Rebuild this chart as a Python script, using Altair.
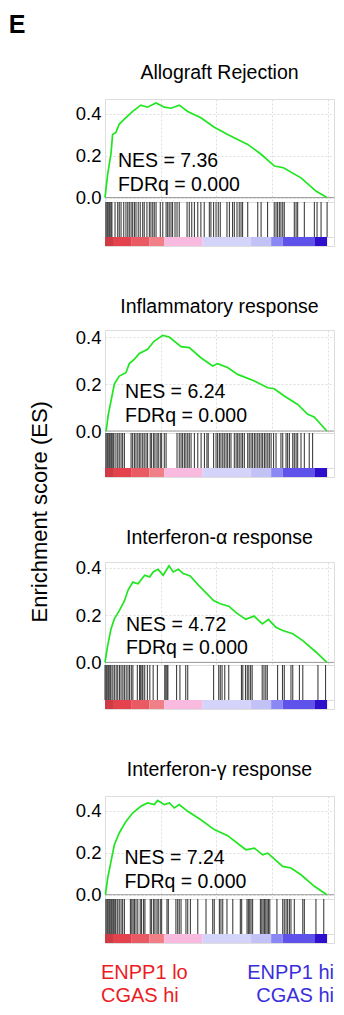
import altair as alt
import pandas as pd

FONT = "Liberation Sans"

# ---------------- data ----------------
titles = ["Allograft Rejection", "Inflammatory response",
          "Interferon-\u03b1 response", "Interferon-\u03b3 response"]
nes_vals = ["7.36", "6.24", "4.72", "7.24"]
fdr_vals = ["0.000", "0.000", "0.000", "0.000"]

# running enrichment score curves (rank in % of ranked list, ES)
rank1 = [0, 1.2, 2.7, 3.4, 4.9, 6.4, 9.4, 12.4, 16.1, 19.0, 22.9, 26.6, 29.6, 33.3,
         37.1, 43.0, 49.0, 55.0, 64.0, 70.0, 76.0, 80.0, 87.9, 94.6, 99.5]
es1 = [0, 0.11, 0.21, 0.30, 0.31, 0.35, 0.38, 0.41, 0.44, 0.43, 0.45, 0.43, 0.425, 0.44,
       0.41, 0.38, 0.335, 0.30, 0.253, 0.206, 0.15, 0.142, 0.094, 0.031, 0]

rank2 = [0.5, 1.5, 2.7, 4.2, 6.4, 9.4, 10.9, 13.1, 15.4, 19.1, 22.1, 25.9, 28.8, 34.1,
         37.8, 43.0, 48.3, 50.5, 55.0, 59.5, 67.0, 73.0, 75.9, 80.4, 86.4, 90.9, 93.8, 99.5]
es2 = [0, 0.071, 0.128, 0.20, 0.234, 0.248, 0.287, 0.305, 0.33, 0.348, 0.383, 0.407, 0.40, 0.359,
       0.355, 0.312, 0.277, 0.287, 0.27, 0.241, 0.213, 0.184, 0.18, 0.149, 0.113, 0.071, 0.06, 0]

rank3 = [0, 1.2, 2.7, 4.2, 6.5, 8.8, 10.3, 12.5, 14.8, 17.8, 20.0, 21.6, 23.8, 26.1, 28.7,
         30.6, 32.9, 35.1, 38.2, 42.0, 48.7, 51.7, 55.5, 58.5, 63.1, 66.8, 70.6, 73.3, 76.6,
         79.7, 84.2, 88.7, 94.7, 99.5]
es3 = [0, 0.071, 0.142, 0.184, 0.22, 0.262, 0.305, 0.34, 0.333, 0.369, 0.362, 0.383, 0.394,
       0.369, 0.409, 0.383, 0.394, 0.376, 0.366, 0.326, 0.262, 0.248, 0.238, 0.213, 0.182,
       0.196, 0.163, 0.182, 0.149, 0.135, 0.121, 0.092, 0.043, 0]

rank4 = [0.2, 1.2, 2.7, 4.2, 6.4, 9.4, 12.4, 16.1, 19.1, 22.1, 23.6, 26.6, 28.9, 31.1, 33.3,
         37.1, 43.0, 49.0, 55.0, 63.2, 67.0, 70.7, 73.0, 79.7, 83.4, 87.9, 93.9, 99.5]
es4 = [0, 0.079, 0.159, 0.238, 0.294, 0.349, 0.389, 0.421, 0.437, 0.429, 0.449, 0.429, 0.437,
       0.413, 0.429, 0.397, 0.357, 0.31, 0.281, 0.214, 0.222, 0.19, 0.198, 0.135, 0.127,
       0.095, 0.04, 0]

# gene-set hit positions (rank in %)
hits1 = [0.4, 0.9, 1.3, 1.8, 2.2, 2.7, 3.1, 4.5, 5.7, 6.4, 7.2, 8.4, 9.4, 10.2, 10.9, 11.7,
         12.4, 13.2, 13.9, 14.9, 15.8, 16.9, 17.6, 18.8, 19.9, 20.6, 21.4, 22.1, 22.9, 24.8,
         25.9, 27.4, 28.1, 28.8, 29.6, 30.3, 31.4, 32.3, 33.3, 36.8, 37.8, 38.9, 40.1, 41.6,
         43.0, 44.5, 46.8, 47.5, 48.7, 49.8, 50.8, 51.7, 54.7, 55.8, 57.2, 58.0, 59.2, 60.2,
         61.0, 61.7, 64.0, 68.5, 70.0, 72.9, 75.9, 76.7, 77.4, 78.2, 78.9, 79.7, 80.4, 84.9,
         85.7, 86.4, 89.4, 93.9, 95.1, 96.9, 99.6]
hits2 = [0.4, 0.9, 1.3, 1.8, 2.2, 2.7, 3.1, 3.6, 4.0, 4.9, 5.7, 6.4, 7.2, 7.9, 8.7, 11.7,
         12.4, 13.2, 13.9, 14.7, 15.4, 16.1, 16.9, 17.6, 18.4, 19.1, 20.3, 20.9, 21.8, 22.4,
         23.3, 23.9, 24.8, 25.4, 26.6, 27.4, 32.3, 33.3, 34.1, 34.8, 35.6, 36.3, 37.1, 37.8,
         38.6, 40.1, 41.6, 43.1, 44.6, 45.7, 46.3, 48.7, 49.8, 50.5, 51.3, 52.0, 52.8, 53.5,
         54.3, 55.0, 55.8, 56.5, 58.0, 58.8, 59.5, 60.2, 61.0, 61.7, 62.5, 64.0, 64.7, 65.5,
         66.2, 67.0, 67.7, 68.5, 69.2, 70.0, 70.7, 71.5, 72.2, 73.0, 73.7, 74.5, 75.6, 76.7,
         78.9, 79.7, 81.2, 81.9, 82.7, 84.2, 84.9, 85.7, 86.4, 87.9, 89.4, 91.6, 93.1]
hits3 = [0, 0.5, 0.9, 1.4, 1.8, 2.3, 2.7, 3.5, 4.2, 5.0, 5.7, 6.5, 7.2, 8.0, 8.7, 9.5, 10.3,
         11.0, 11.8, 12.5, 14.5, 15.5, 16.0, 16.6, 17.0, 17.8, 19.0, 20.1, 21.6, 23.5, 26.8,
         27.3, 27.8, 28.2, 32.1, 33.6, 36.2, 37.1, 48.7, 51.0, 51.7, 52.5, 53.7, 55.5, 61.2,
         61.8, 63.0, 63.8, 64.5, 65.3, 66.0, 70.5, 71.3, 72.1, 72.8, 77.4, 79.6, 80.4, 83.4,
         84.2, 87.2, 88.7, 95.5, 98.9]
hits4 = [0.4, 0.9, 1.3, 1.8, 2.2, 2.7, 3.1, 3.6, 4.0, 4.5, 4.9, 5.7, 6.4, 7.2, 7.9, 8.7,
         11.4, 12.0, 12.6, 13.2, 13.9, 14.7, 15.8, 16.4, 17.3, 17.9, 20.3, 20.9, 21.8, 22.4,
         23.3, 23.9, 24.8, 25.4, 27.8, 28.4, 31.8, 32.6, 33.3, 34.1, 36.3, 37.1, 38.3, 41.6,
         45.3, 48.3, 49.0, 51.3, 52.0, 52.8, 54.7, 57.3, 60.7, 61.3, 63.7, 64.3, 64.9, 65.5,
         66.2, 69.7, 70.3, 70.9, 71.5, 72.1, 72.7, 73.3, 73.9, 77.1, 79.7, 80.4, 81.2, 81.9,
         82.7, 83.4, 84.9, 88.7, 89.4, 94.6, 98.1]

# ranked-list colour bar segments (rank %)
cb_start = [0, 4, 12, 20, 26.6, 43.8, 65.5, 74.5, 79.7, 93.9]
cb_end = [4, 12, 20, 26.6, 43.8, 65.5, 74.5, 79.7, 93.9, 99.6]
cb_color = ["#cf3a44", "#e4434e", "#ea5a64", "#f07f88", "#f9bae0", "#d4d4fb",
            "#c2c2f7", "#8a88f5", "#5f52ea", "#2e10cc"]

left_label = ["ENPP1 lo", "CGAS hi"]
right_label = ["ENPP1 hi", "CGAS hi"]

ranks = [rank1, rank2, rank3, rank4]
ess = [es1, es2, es3, es4]
hits = [hits1, hits2, hits3, hits4]

# ---------------- layout / style ----------------
W = 229
H_ES = 103
H_HIT = 35
H_CB = 9
XDOM = [0, 102.7]
ydoms = [[-0.021, 0.469], [-0.0085, 0.43], [-0.011, 0.425], [-0.0205, 0.47]]
text_pos = [(5.8, 0.145), (9.0, 0.14), (9.4, 0.134), (8.7, 0.146)]
title_offsets = [16, 10.5, 10, 16]
GREEN = "#1fe61f"
GRID = "#dedede"
BORDER = "#c4c4c4"

xs = alt.Scale(domain=XDOM, nice=False, zero=False)
cb_df = pd.DataFrame({"s": cb_start, "e": cb_end, "c": cb_color})


def panel(i):
    lo, hi = ydoms[i]
    ys = alt.Scale(domain=[lo, hi], nice=False, zero=False)
    yvals = [round(0.05 * k, 2) for k in range(10) if 0.05 * k <= hi]
    xax = alt.Axis(values=[12.5 * k for k in range(9)], grid=True, labels=False,
                   ticks=False, domain=False, title=None, gridColor=GRID,
                   gridDash=[2, 2], minExtent=0, maxExtent=0)
    yax = alt.Axis(values=yvals, grid=True, ticks=False, domain=False, title=None,
                   gridColor=GRID, gridDash=[2, 2], labelFontSize=18.5,
                   labelColor="black", labelPadding=4, labelFont=FONT,
                   labelExpr="abs(datum.value*5 - round(datum.value*5)) < 0.01 ? format(datum.value, '.1f') : ''")
    cdf = pd.DataFrame({"rank": ranks[i], "es": ess[i]})
    line = alt.Chart(cdf).mark_line(color=GREEN, strokeWidth=1.7).encode(
        x=alt.X("rank:Q", scale=xs, axis=xax),
        y=alt.Y("es:Q", scale=ys, axis=yax),
    )
    zero = alt.Chart(pd.DataFrame({"z": [0.0]})).mark_rule(
        color="#9a9a9a", strokeWidth=1).encode(y=alt.Y("z:Q", scale=ys))
    tx, ty = text_pos[i]
    txt = alt.Chart(pd.DataFrame({"t": [f"NES = {nes_vals[i]}\nFDRq = {fdr_vals[i]}"]})).mark_text(
        align="left", baseline="alphabetic", fontSize=19.5, font=FONT,
        lineBreak="\n", lineHeight=23.5, color="black").encode(
        x=alt.datum(tx), y=alt.datum(ty), text="t:N")
    es_chart = alt.layer(zero, line, txt).properties(
        width=W, height=H_ES,
        title=alt.TitleParams(titles[i], fontSize=19.5, font=FONT, fontWeight="normal",
                              anchor="middle", offset=title_offsets[i], color="black"))
    hit_chart = alt.Chart(pd.DataFrame({"rank": hits[i]})).mark_rule(
        color="black", strokeWidth=1.1, opacity=0.75).encode(
        x=alt.X("rank:Q", scale=xs, axis=None)).properties(width=W, height=H_HIT)
    cb_chart = alt.Chart(cb_df).mark_rect().encode(
        x=alt.X("s:Q", scale=xs, axis=None), x2="e:Q",
        color=alt.Color("c:N", scale=None)).properties(width=W, height=H_CB)
    return alt.vconcat(es_chart, hit_chart, cb_chart, spacing=0, bounds="flush")


panels = alt.vconcat(*[panel(i) for i in range(4)], spacing=49).properties(
    title=alt.TitleParams("Enrichment score (ES)", orient="left", anchor="middle",
                          fontSize=22, font=FONT, fontWeight="normal", offset=23,
                          color="black", dx=-9))

lab_l = pd.DataFrame({"t": left_label, "r": [0, 1], "x": [XDOM[0]] * 2})
lab_r = pd.DataFrame({"t": right_label, "r": [0, 1], "x": [XDOM[1]] * 2})
yl = alt.Y("r:O", axis=None)
labels = alt.layer(
    alt.Chart(lab_l).mark_text(align="left", baseline="middle", fontSize=20, font=FONT,
                               color="#ec1c24", dx=-4).encode(
        x=alt.X("x:Q", scale=xs, axis=None), y=yl, text="t:N"),
    alt.Chart(lab_r).mark_text(align="right", baseline="middle", fontSize=20, font=FONT,
                               color="#3a2edc").encode(
        x=alt.X("x:Q", scale=xs, axis=None), y=yl, text="t:N"),
).properties(width=W, height=46, view=alt.ViewBackground(strokeOpacity=0))

chart = alt.vconcat(panels, labels, spacing=17).properties(
    title=alt.TitleParams("E", anchor="start", fontSize=25, font=FONT, fontWeight="bold",
                          offset=24, color="black", dx=-20),
    padding={"left": 0, "top": 5, "right": 0, "bottom": 0},
).configure_view(stroke=BORDER, strokeWidth=1).configure(font=FONT)

chart.save("out.html", embed_options={"renderer": "svg", "actions": False})
